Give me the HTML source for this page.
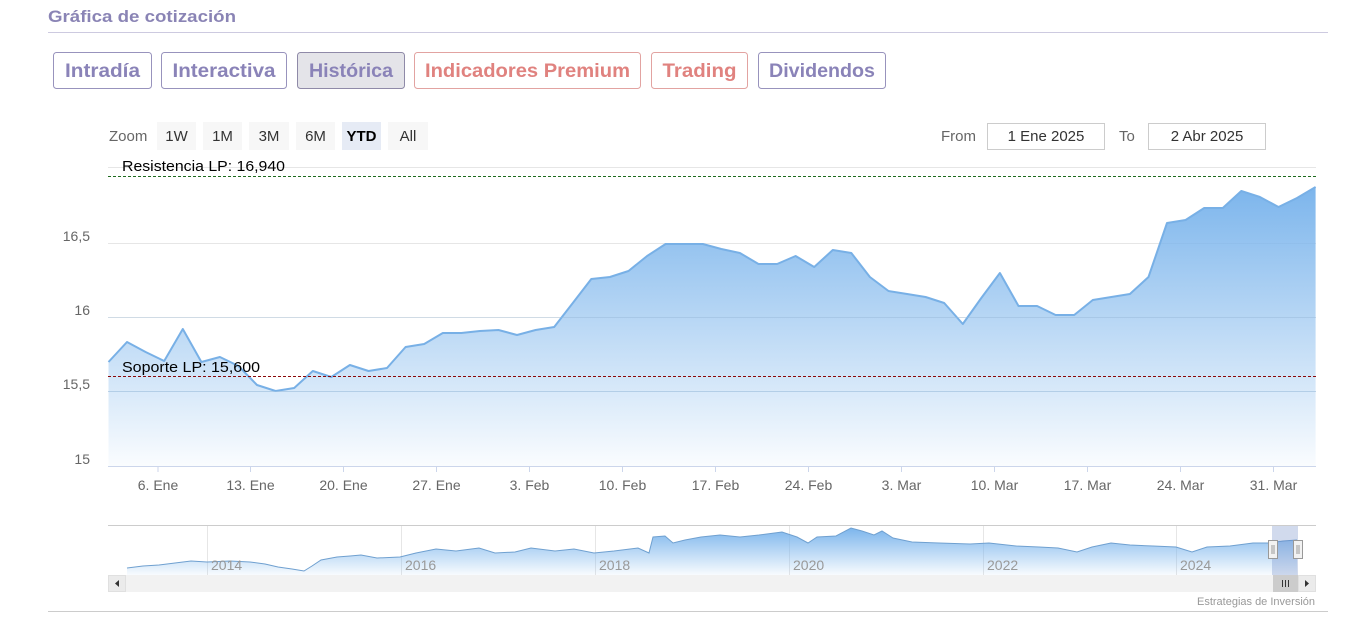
<!DOCTYPE html>
<html><head><meta charset="utf-8"><style>
html,body{margin:0;padding:0;background:#fff;width:1364px;height:626px;overflow:hidden}
svg{display:block}
</style></head><body>
<svg width="1364" height="626" viewBox="0 0 1364 626" xmlns="http://www.w3.org/2000/svg">
<defs>
<linearGradient id="ga" x1="0" y1="187" x2="0" y2="466" gradientUnits="userSpaceOnUse">
<stop offset="0" stop-color="#7cb5ec" stop-opacity="1"/>
<stop offset="1" stop-color="#7cb5ec" stop-opacity="0.04"/>
</linearGradient>
<linearGradient id="gn" x1="0" y1="528" x2="0" y2="575" gradientUnits="userSpaceOnUse">
<stop offset="0" stop-color="#7cb5ec" stop-opacity="1"/>
<stop offset="1" stop-color="#7cb5ec" stop-opacity="0.05"/>
</linearGradient>
</defs>

<!-- header -->
<text x="48" y="22" font-family="Liberation Sans, sans-serif" font-weight="bold" font-size="17" fill="#8a84b5" textLength="188" lengthAdjust="spacingAndGlyphs">Gráfica de cotización</text>
<line x1="48" y1="32.5" x2="1328" y2="32.5" stroke="#cdcae0" stroke-width="1"/>

<!-- tab buttons -->
<g font-family="Liberation Sans, sans-serif" font-weight="bold" font-size="19" text-anchor="middle">
<rect x="53.5" y="52.5" width="98" height="36" rx="3" fill="#fff" stroke="#9893bd"/>
<text x="102.5" y="77" fill="#8a83b8" textLength="75" lengthAdjust="spacingAndGlyphs">Intradía</text>
<rect x="161.5" y="52.5" width="125" height="36" rx="3" fill="#fff" stroke="#9893bd"/>
<text x="224" y="77" fill="#8a83b8" textLength="103" lengthAdjust="spacingAndGlyphs">Interactiva</text>
<rect x="297.5" y="52.5" width="107" height="36" rx="3" fill="#e4e4e9" stroke="#8f8aa8"/>
<text x="351" y="77" fill="#8a83b8" textLength="84" lengthAdjust="spacingAndGlyphs">Histórica</text>
<rect x="414.5" y="52.5" width="226" height="36" rx="3" fill="#fff" stroke="#e2a3a1"/>
<text x="527.5" y="77" fill="#e0827f" textLength="205" lengthAdjust="spacingAndGlyphs">Indicadores Premium</text>
<rect x="651.5" y="52.5" width="96" height="36" rx="3" fill="#fff" stroke="#e2a3a1"/>
<text x="699.5" y="77" fill="#e0827f" textLength="74" lengthAdjust="spacingAndGlyphs">Trading</text>
<rect x="758.5" y="52.5" width="127" height="36" rx="3" fill="#fff" stroke="#9893bd"/>
<text x="822" y="77" fill="#8a83b8" textLength="106" lengthAdjust="spacingAndGlyphs">Dividendos</text>
</g>

<!-- range selector -->
<g font-family="Liberation Sans, DejaVu Sans, sans-serif" font-size="15">
<text x="109" y="141" fill="#666">Zoom</text>
<rect x="157" y="122" width="39" height="28" fill="#f7f7f7"/>
<rect x="203" y="122" width="39" height="28" fill="#f7f7f7"/>
<rect x="249" y="122" width="40" height="28" fill="#f7f7f7"/>
<rect x="296" y="122" width="39" height="28" fill="#f7f7f7"/>
<rect x="342" y="122" width="39" height="28" fill="#e6ebf5"/>
<rect x="388" y="122" width="40" height="28" fill="#f7f7f7"/>
<g text-anchor="middle" fill="#333">
<text x="176.5" y="141">1W</text>
<text x="222.5" y="141">1M</text>
<text x="269" y="141">3M</text>
<text x="315.5" y="141">6M</text>
<text x="361.5" y="141" font-weight="bold" fill="#000">YTD</text>
<text x="408" y="141">All</text>
</g>
<text x="941" y="141" fill="#666">From</text>
<rect x="987.5" y="123.5" width="117" height="26" fill="#fff" stroke="#ccc"/>
<text x="1046" y="141" fill="#333" text-anchor="middle">1 Ene 2025</text>
<text x="1119" y="141" fill="#666">To</text>
<rect x="1148.5" y="123.5" width="117" height="26" fill="#fff" stroke="#ccc"/>
<text x="1207" y="141" fill="#333" text-anchor="middle">2 Abr 2025</text>
</g>

<!-- grid -->
<g stroke="#e6e6e6" stroke-width="1">
<line x1="108" y1="167.5" x2="1316" y2="167.5"/>
<line x1="108" y1="243.5" x2="1316" y2="243.5"/>
<line x1="108" y1="317.5" x2="1316" y2="317.5"/>
<line x1="108" y1="391.5" x2="1316" y2="391.5"/>
</g>

<!-- series -->
<path fill="url(#ga)" d="M108.5,466 L108.5,362 127,342 145.6,352 164.2,361 182.8,329 201.4,362 219.9,357 238.5,366 257,385 275.6,391 294.2,388 312.8,371 331.3,377 349.9,365 368.5,371 387,368 405.6,347 424.2,344 442.8,333 461.3,333 479.9,331 498.5,330 517,335 535.6,330 554.2,327 572.8,303 591.3,279 609.9,277 628.5,271 647.1,256 665.6,244 684.2,244 702.8,244 721.3,249 739.9,253 758.5,264 777.1,264 795.6,256 814.2,267 832.8,250 851.3,253 869.9,277 888.5,291 907.1,294 925.6,297 944.2,303 962.8,324 981.3,298 999.9,273 1018.5,306 1037.1,306 1055.6,315 1074.2,315 1092.8,300 1111.3,297 1129.9,294 1148.5,277 1167,223 1185.6,220 1204.2,208 1222.8,208 1241.3,191 1259.9,197 1278.5,207 1297,198 1315.6,187 L1315.6,466 Z"/>
<polyline fill="none" stroke="#78b0e6" stroke-width="2" stroke-linejoin="round" points="108.5,362 127,342 145.6,352 164.2,361 182.8,329 201.4,362 219.9,357 238.5,366 257,385 275.6,391 294.2,388 312.8,371 331.3,377 349.9,365 368.5,371 387,368 405.6,347 424.2,344 442.8,333 461.3,333 479.9,331 498.5,330 517,335 535.6,330 554.2,327 572.8,303 591.3,279 609.9,277 628.5,271 647.1,256 665.6,244 684.2,244 702.8,244 721.3,249 739.9,253 758.5,264 777.1,264 795.6,256 814.2,267 832.8,250 851.3,253 869.9,277 888.5,291 907.1,294 925.6,297 944.2,303 962.8,324 981.3,298 999.9,273 1018.5,306 1037.1,306 1055.6,315 1074.2,315 1092.8,300 1111.3,297 1129.9,294 1148.5,277 1167,223 1185.6,220 1204.2,208 1222.8,208 1241.3,191 1259.9,197 1278.5,207 1297,198 1315.6,187"/>

<!-- gridline visible through fill -->
<line x1="108" y1="391.5" x2="1316" y2="391.5" stroke="#9fc3e6" stroke-opacity="0.5"/>
<line x1="108" y1="317.5" x2="1316" y2="317.5" stroke="#9fc3e6" stroke-opacity="0.3"/>

<!-- plot lines -->
<line x1="108" y1="176.5" x2="1316" y2="176.5" stroke="#1f6b1f" stroke-width="1" stroke-dasharray="3,2"/>
<line x1="108" y1="376.5" x2="1316" y2="376.5" stroke="#8b0a0a" stroke-width="1" stroke-dasharray="3,2"/>
<g font-family="Liberation Sans, DejaVu Sans, sans-serif" font-size="15" fill="#000">
<text x="122" y="171" textLength="163" lengthAdjust="spacingAndGlyphs">Resistencia LP: 16,940</text>
<text x="122" y="372" textLength="138" lengthAdjust="spacingAndGlyphs">Soporte LP: 15,600</text>
</g>

<!-- x axis -->
<line x1="108" y1="466.5" x2="1316" y2="466.5" stroke="#ccd6eb"/>
<g stroke="#ccd6eb">
<line x1="158" y1="466" x2="158" y2="472"/><line x1="250.5" y1="466" x2="250.5" y2="472"/><line x1="343.5" y1="466" x2="343.5" y2="472"/><line x1="436.5" y1="466" x2="436.5" y2="472"/><line x1="529.5" y1="466" x2="529.5" y2="472"/><line x1="622.5" y1="466" x2="622.5" y2="472"/><line x1="715.5" y1="466" x2="715.5" y2="472"/><line x1="808.5" y1="466" x2="808.5" y2="472"/><line x1="901.5" y1="466" x2="901.5" y2="472"/><line x1="994.5" y1="466" x2="994.5" y2="472"/><line x1="1087.5" y1="466" x2="1087.5" y2="472"/><line x1="1180.5" y1="466" x2="1180.5" y2="472"/><line x1="1273.5" y1="466" x2="1273.5" y2="472"/>
</g>
<g font-family="Liberation Sans, DejaVu Sans, sans-serif" font-size="14" fill="#666" text-anchor="middle">
<text x="158" y="490">6. Ene</text>
<text x="250.5" y="490">13. Ene</text>
<text x="343.5" y="490">20. Ene</text>
<text x="436.5" y="490">27. Ene</text>
<text x="529.5" y="490">3. Feb</text>
<text x="622.5" y="490">10. Feb</text>
<text x="715.5" y="490">17. Feb</text>
<text x="808.5" y="490">24. Feb</text>
<text x="901.5" y="490">3. Mar</text>
<text x="994.5" y="490">10. Mar</text>
<text x="1087.5" y="490">17. Mar</text>
<text x="1180.5" y="490">24. Mar</text>
<text x="1273.5" y="490">31. Mar</text>
</g>
<g font-family="Liberation Sans, DejaVu Sans, sans-serif" font-size="14" fill="#666" text-anchor="end">
<text x="90" y="241">16,5</text>
<text x="90" y="315">16</text>
<text x="90" y="389">15,5</text>
<text x="90" y="464">15</text>
</g>

<!-- navigator -->
<line x1="108" y1="525.5" x2="1316" y2="525.5" stroke="#cccccc"/>
<g stroke="#e6e6e6">
<line x1="207.5" y1="526" x2="207.5" y2="575"/><line x1="401.5" y1="526" x2="401.5" y2="575"/><line x1="595.5" y1="526" x2="595.5" y2="575"/><line x1="789.5" y1="526" x2="789.5" y2="575"/><line x1="983.5" y1="526" x2="983.5" y2="575"/><line x1="1176.5" y1="526" x2="1176.5" y2="575"/>
</g>
<path fill="url(#gn)" d="M127,575 L127,568 143,566 159,565 175,563 191,561 207,562 230,561 250,562 265,564 278,567 292,569 304,571 312,566 321,560 337,557 350,556 361,555 377,558 400,557 416,553 436,549 456,551 479,548 495,553 515,552 531,548 555,551 574,549 594,553 614,551 638,548 649,553 653,537 665,536 673,543 685,540 701,537 720,535 740,537 759,535 782,532 797,537 808,543 817,537 836,536 851,528 862,531 874,535 882,531 893,538 912,542 939,543 970,544 989,543 1016,546 1039,547 1058,548 1077,552 1092,547 1111,543 1130,545 1153,546 1176,547 1192,552 1207,547 1230,546 1253,543 1268,543 1283,541 1297,540 L1297,575 Z"/>
<polyline fill="none" stroke="#6fa0d0" stroke-width="1" points="127,568 143,566 159,565 175,563 191,561 207,562 230,561 250,562 265,564 278,567 292,569 304,571 312,566 321,560 337,557 350,556 361,555 377,558 400,557 416,553 436,549 456,551 479,548 495,553 515,552 531,548 555,551 574,549 594,553 614,551 638,548 649,553 653,537 665,536 673,543 685,540 701,537 720,535 740,537 759,535 782,532 797,537 808,543 817,537 836,536 851,528 862,531 874,535 882,531 893,538 912,542 939,543 970,544 989,543 1016,546 1039,547 1058,548 1077,552 1092,547 1111,543 1130,545 1153,546 1176,547 1192,552 1207,547 1230,546 1253,543 1268,543 1283,541 1297,540"/>
<g font-family="Liberation Sans, DejaVu Sans, sans-serif" font-size="14" fill="#999">
<text x="211" y="570">2014</text>
<text x="405" y="570">2016</text>
<text x="599" y="570">2018</text>
<text x="793" y="570">2020</text>
<text x="987" y="570">2022</text>
<text x="1180" y="570">2024</text>
</g>
<rect x="1272" y="526" width="26" height="49" fill="#6685c2" fill-opacity="0.3"/>
<g fill="#f2f2f2" stroke="#999">
<rect x="1268.5" y="540.5" width="9" height="18"/>
<rect x="1293.5" y="540.5" width="9" height="18"/>
</g>
<g stroke="#999">
<line x1="1272" y1="545" x2="1272" y2="554"/><line x1="1274" y1="545" x2="1274" y2="554"/>
<line x1="1297" y1="545" x2="1297" y2="554"/><line x1="1299" y1="545" x2="1299" y2="554"/>
</g>

<!-- scrollbar -->
<rect x="108" y="575" width="1208" height="17" fill="#f2f2f2"/>
<rect x="108.5" y="575.5" width="17" height="16" fill="#ebebeb" stroke="#e0e0e0"/>
<path d="M119,580 L115,583.5 L119,587 Z" fill="#333"/>
<rect x="1273" y="575" width="25" height="17" fill="#cccccc"/>
<g stroke="#333"><line x1="1282.5" y1="580" x2="1282.5" y2="587"/><line x1="1285.5" y1="580" x2="1285.5" y2="587"/><line x1="1288.5" y1="580" x2="1288.5" y2="587"/></g>
<rect x="1298.5" y="575.5" width="17" height="16" fill="#ebebeb" stroke="#e0e0e0"/>
<path d="M1305,580 L1309,583.5 L1305,587 Z" fill="#333"/>

<text x="1315" y="605" font-family="Liberation Sans, DejaVu Sans, sans-serif" font-size="11" fill="#999" text-anchor="end">Estrategias de Inversión</text>
<line x1="48" y1="611.5" x2="1328" y2="611.5" stroke="#cccccc"/>
</svg>
</body></html>
